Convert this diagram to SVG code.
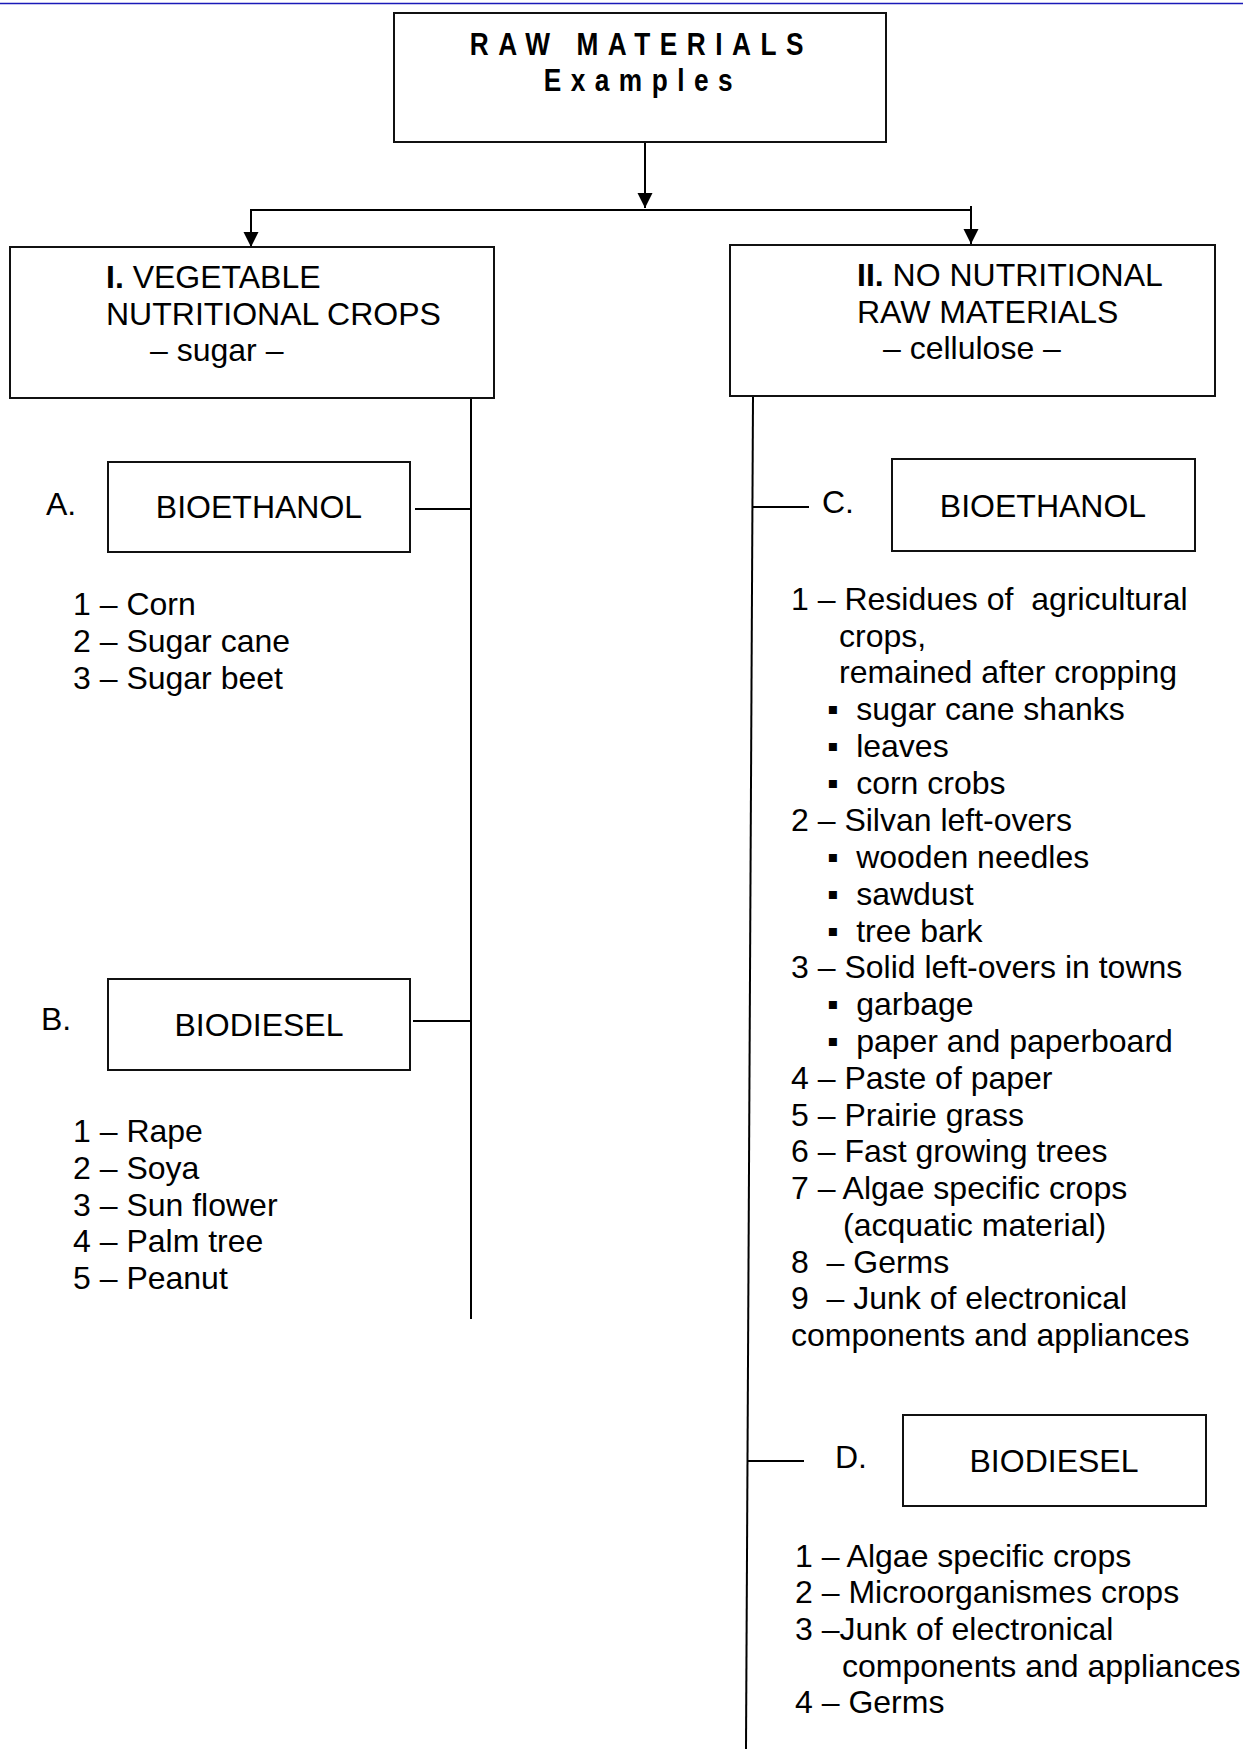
<svg xmlns="http://www.w3.org/2000/svg" width="1243" height="1749" viewBox="0 0 1243 1749">
<style>
.bx{fill:#fff;stroke:#111;stroke-width:2}
.ln{fill:none;stroke:#000;stroke-width:2}
text{font-family:"Liberation Sans",Arial,sans-serif;font-size:32px;fill:#000;white-space:pre}
.ttl{font-weight:bold;letter-spacing:11.6px}
.mid{text-anchor:middle}
.b{font-weight:bold}
</style>
<defs>
<marker id="ah" markerWidth="15" markerHeight="16" refX="15" refY="7.5" orient="auto" markerUnits="userSpaceOnUse">
<path d="M0,0 L15,7.5 L0,15 Z" fill="#000"/>
</marker>
</defs>
<rect x="0" y="0" width="1243" height="1749" fill="#fff"/>
<line x1="0" y1="3.5" x2="1243" y2="3.5" stroke="#1a1ab8" stroke-width="1.5"/>
<g id="connectors">
<line class="ln" x1="645" y1="142" x2="645" y2="208" marker-end="url(#ah)"/>
<polyline class="ln" points="251,247 251,210 971,210"/>
<line class="ln" x1="251" y1="210" x2="251" y2="247" marker-end="url(#ah)"/>
<line class="ln" x1="971" y1="206" x2="971" y2="244" marker-end="url(#ah)"/>
<line class="ln" x1="471" y1="398" x2="471" y2="1319"/>
<line class="ln" x1="415" y1="509" x2="471" y2="509"/>
<line class="ln" x1="413" y1="1021" x2="471" y2="1021"/>
<line class="ln" x1="753" y1="396" x2="746" y2="1749"/>
<line class="ln" x1="752" y1="507" x2="809" y2="507"/>
<line class="ln" x1="747" y1="1461" x2="804" y2="1461"/>
</g>
<g id="root">
<rect class="bx" x="394" y="13" width="492" height="129"/>
<g transform="scale(0.82,1)">
<text class="ttl" x="573" y="55">RAW MATERIALS</text>
<text class="ttl" x="663" y="91">Examples</text>
</g>
</g>
<g id="vegetable">
<rect class="bx" x="10" y="247" width="484" height="151"/>
<text x="106" y="288"><tspan class="b">I.</tspan> VEGETABLE</text>
<text x="106" y="325">NUTRITIONAL CROPS</text>
<text x="150" y="361">– sugar –</text>
</g>
<g id="bioethanol-a">
<text x="46" y="515">A.</text>
<rect class="bx" x="108" y="462" width="302" height="90"/>
<text class="mid" x="259" y="518">BIOETHANOL</text>
<text x="73" y="615">1 – Corn</text>
<text x="73" y="652">2 – Sugar cane</text>
<text x="73" y="689">3 – Sugar beet</text>
</g>
<g id="biodiesel-b">
<text x="41" y="1030">B.</text>
<rect class="bx" x="108" y="979" width="302" height="91"/>
<text class="mid" x="259" y="1036">BIODIESEL</text>
<text x="73" y="1142">1 – Rape</text>
<text x="73" y="1179">2 – Soya</text>
<text x="73" y="1216">3 – Sun flower</text>
<text x="73" y="1252">4 – Palm tree</text>
<text x="73" y="1289">5 – Peanut</text>
</g>
<g id="no-nutritional">
<rect class="bx" x="730" y="245" width="485" height="151"/>
<text x="857" y="286"><tspan class="b">II.</tspan> NO NUTRITIONAL</text>
<text x="857" y="323">RAW MATERIALS</text>
<text x="883" y="359">– cellulose –</text>
</g>
<g id="bioethanol-c">
<text x="822" y="513">C.</text>
<rect class="bx" x="892" y="459" width="303" height="92"/>
<text class="mid" x="1043" y="517">BIOETHANOL</text>
<text x="791" y="610">1 – Residues of  agricultural</text>
<text x="839" y="647">crops,</text>
<text x="839" y="683">remained after cropping</text>
<text x="827" y="720">▪  sugar cane shanks</text>
<text x="827" y="757">▪  leaves</text>
<text x="827" y="794">▪  corn crobs</text>
<text x="791" y="831">2 – Silvan left-overs</text>
<text x="827" y="868">▪  wooden needles</text>
<text x="827" y="905">▪  sawdust</text>
<text x="827" y="942">▪  tree bark</text>
<text x="791" y="978">3 – Solid left-overs in towns</text>
<text x="827" y="1015">▪  garbage</text>
<text x="827" y="1052">▪  paper and paperboard</text>
<text x="791" y="1089">4 – Paste of paper</text>
<text x="791" y="1126">5 – Prairie grass</text>
<text x="791" y="1162">6 – Fast growing trees</text>
<text x="791" y="1199">7 – Algae specific crops</text>
<text x="843" y="1236">(acquatic material)</text>
<text x="791" y="1273">8  – Germs</text>
<text x="791" y="1309">9  – Junk of electronical</text>
<text x="791" y="1346">components and appliances</text>
</g>
<g id="biodiesel-d">
<text x="835" y="1468">D.</text>
<rect class="bx" x="903" y="1415" width="303" height="91"/>
<text class="mid" x="1054" y="1472">BIODIESEL</text>
<text x="795" y="1567">1 – Algae specific crops</text>
<text x="795" y="1603">2 – Microorganismes crops</text>
<text x="795" y="1640">3 –Junk of electronical</text>
<text x="842" y="1677">components and appliances</text>
<text x="795" y="1713">4 – Germs</text>
</g>
</svg>
